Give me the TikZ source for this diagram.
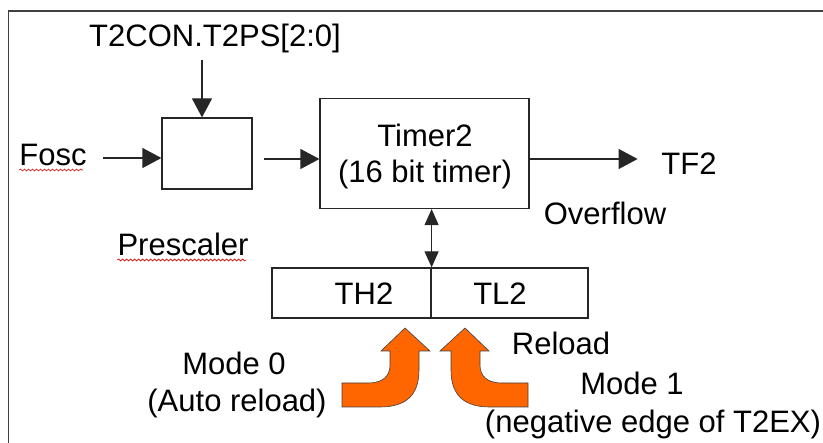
\documentclass[tikz,border=0pt]{standalone}
\usepackage{fontspec}
\setmainfont{Liberation Sans}
\usetikzlibrary{arrows.meta,decorations.pathmorphing}
\definecolor{arrorange}{HTML}{FF6600}
\tikzset{
  txt/.style={inner sep=0pt,anchor=base,font=\fontsize{31}{36}\selectfont},
  blk/.style={draw=black!85,line width=1.2pt,inner sep=0pt,fill=white},
  arr/.style={draw=black!85,line width=1.2pt,-{Triangle[length=19pt,width=20pt]}},
  dbl/.style={draw=black!85,line width=1.2pt,{Triangle[length=16pt,width=14pt]}-{Triangle[length=16pt,width=14pt]}},
  squiggle/.style={draw=red!85!black,line width=0.6pt,decorate,decoration={snake,amplitude=1pt,segment length=4pt}},
  bigarrow/.style={fill=arrorange,draw=black!75,line width=0.6pt,line join=miter}
}
\begin{document}
\begin{tikzpicture}[x=1pt,y=-1pt]
\useasboundingbox (0,0) rectangle (823,443);
% outer frame
\draw[line width=1.8pt,black!75] (8.5,443) -- (8.5,11) -- (823,11);

% blocks
\node[blk,minimum width=90pt,minimum height=71pt] (pre) at (207,153.5) {};
\node[blk,minimum width=209pt,minimum height=110pt] (timer) at (424.5,153.5) {};
\node[blk,minimum width=159pt,minimum height=50pt] (th) at (351.5,293) {};
\node[blk,minimum width=157pt,minimum height=50pt] (tl) at (509.5,293) {};

% texts
\node[txt] (t2con) at (215,47) {T2CON.T2PS[2:0]};
\node[txt] (fosc) at (53,166) {Fosc};
\node[txt] (presc) at (183,256) {Prescaler};
\node[txt] (tim1) at (425,147) {Timer2};
\node[txt] (tim2) at (425,183) {(16 bit timer)};
\node[txt] (tf2) at (689,175) {TF2};
\node[txt] (ovf) at (605,225) {Overflow};
\node[txt] (th2) at (364,305) {TH2};
\node[txt] (tl2) at (500,305) {TL2};
\node[txt] (reload) at (561,355) {Reload};
\node[txt] (mode1) at (632,395) {Mode 1};
\node[txt] (neg) at (653,433) {(negative edge of T2EX)};
\node[txt] (mode0) at (234,375) {Mode 0};
\node[txt] (auto) at (237,412) {(Auto reload)};

% spell-check squiggles
\draw[squiggle] (fosc.base west) ++(0,4) -- ++(64,0);
\draw[squiggle] (presc.base west) ++(0,4) -- ++(129,0);

% connectors
\draw[arr] ([xshift=-5pt,yshift=-6pt]pre.north |- t2con.south) -- ([xshift=-5pt]pre.north);
\draw[arr] ([xshift=-58pt,yshift=-4.5pt]pre.west) -- ([yshift=-4.5pt]pre.west);
\draw[arr] ([xshift=11pt,yshift=-5.5pt]pre.east) -- ([yshift=-5.5pt]timer.west);
\draw[arr] ([yshift=-5.5pt]timer.east) -- ([xshift=108pt,yshift=-5.5pt]timer.east);
\draw[dbl] (timer.south -| th.east) -- (th.north east);

% orange reload arrows
\draw[bigarrow] (405,328) -- (430,351) -- (419,351) -- (419,370)
  .. controls (419,396) and (405,407) .. (380,407) -- (342,407) -- (342,383)
  -- (368,383) .. controls (383,383) and (390,376) .. (390,365) -- (390,351) -- (381,351) -- cycle;
\begin{scope}[xshift=870pt,xscale=-1]
\draw[bigarrow] (405,328) -- (430,351) -- (419,351) -- (419,370)
  .. controls (419,396) and (405,407) .. (380,407) -- (342,407) -- (342,383)
  -- (368,383) .. controls (383,383) and (390,376) .. (390,365) -- (390,351) -- (381,351) -- cycle;
\end{scope}
\end{tikzpicture}
\end{document}
